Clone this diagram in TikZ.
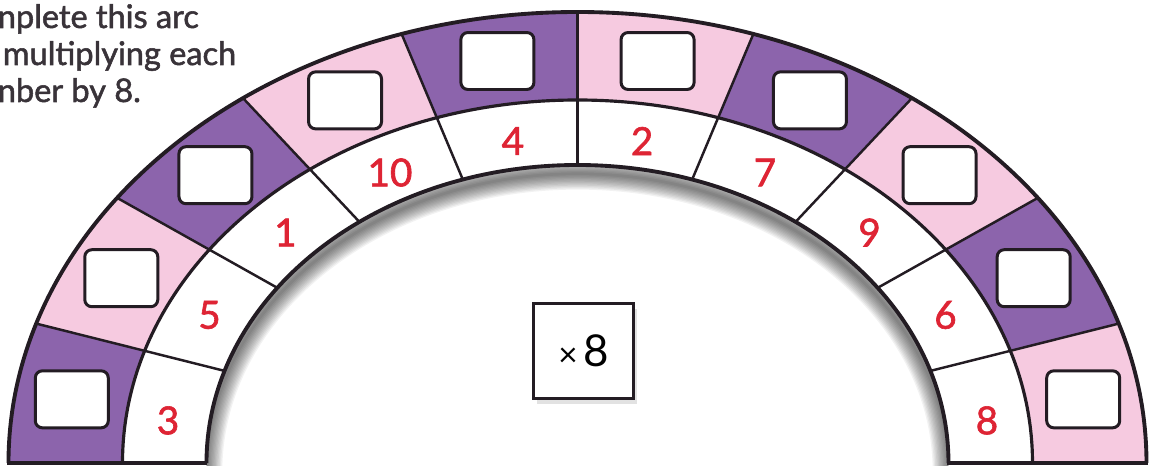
\documentclass[tikz,border=0pt]{standalone}
\usepackage{fontspec}
\setmainfont{Lato}
\newfontfamily\heavyfont[FakeBold=1.6]{Lato}
\usepackage{tikz}
\usetikzlibrary{positioning, shadows}
\definecolor{arcpurple}{RGB}{140,100,172}
\definecolor{arcpink}{RGB}{246,202,224}
\definecolor{numred}{RGB}{222,36,52}
\definecolor{inkdark}{RGB}{35,28,35}

\begin{document}
\begin{tikzpicture}[
    x=0.02cm, y=0.02cm,
    answer/.style={draw=inkdark, line width=1.7pt, fill=white, rounded corners=4pt,
                   minimum width=1.46cm, minimum height=1.14cm, inner sep=0pt},
    num/.style={text=numred, font=\heavyfont\fontsize{22}{22}\selectfont, inner sep=0pt},
    task/.style={anchor=base west, text=inkdark!90, font=\heavyfont\fontsize{18.5}{20}\selectfont, inner sep=0pt},
    rim/.style={draw=inkdark, line width=2.2pt},
    spoke/.style={draw=inkdark, line width=1.4pt},
    timesbox/.style={draw=inkdark, line width=1.7pt, fill=white,
                     minimum width=2cm, minimum height=1.9cm,
                     drop shadow={shadow xshift=2pt, shadow yshift=-3pt, fill=black!22}}
]
    % page
    \fill[white] (-577.5,-3) rectangle (576.5,463);
    \useasboundingbox (-577.5,-3) rectangle (576.5,463);

    % Instruction (cut at the left edge)
    \node[task] (task1) at (-580,435) {nplete this arc};
    \node[task] (task2) at (-575,398) {multiplying each};
    \node[task] (task3) at (-580,361) {nber by 8.};

    % Coloured outer ring
    \foreach \i/\col in {0/arcpurple,1/arcpink,2/arcpurple,3/arcpink,4/arcpurple,
                         5/arcpink,6/arcpurple,7/arcpink,8/arcpurple,9/arcpink} {
        \pgfmathsetmacro\a{180-18*\i}
        \pgfmathsetmacro\b{162-18*\i}
        \fill[\col] (\a:569 and 451) arc[start angle=\a, end angle=\b, x radius=569, y radius=451]
            -- (\b:455 and 363) arc[start angle=\b, end angle=\a, x radius=455, y radius=363] -- cycle;
    }

    % Shadow inside the arc
    \begin{scope}
        \clip (0,0) ellipse [x radius=371, y radius=298];
        \foreach \k in {1,...,12}
            \draw[black, opacity=0.05, line width=\k*1.5pt, yshift=-5]
                (180:371 and 298) arc[start angle=180, end angle=0, x radius=371, y radius=298];
    \end{scope}

    % Outlines
    \draw[rim] (180:569 and 451) arc[start angle=180, end angle=0, x radius=569, y radius=451];
    \draw[rim, line width=1.8pt] (180:455 and 363) arc[start angle=180, end angle=0, x radius=455, y radius=363];
    \draw[rim] (180:371 and 298) arc[start angle=180, end angle=0, x radius=371, y radius=298];
    \draw[rim] (-570,0) -- (-370,0);
    \draw[rim] (370,0) -- (570,0);
    \foreach \t in {162,144,...,18}
        \draw[spoke] (\t:371 and 298) -- (\t:569 and 451);

    % Answer boxes and numbers
    \foreach \n/\t/\u in {3/171/172.5, 5/153/153, 1/135/135, 10/117/117, 4/99/99,
                          2/81/81, 7/63/63, 9/45/45, 6/27/27, 8/9/7.5} {
        \node[answer] (ans\n) at (\t:512 and 407) {};
        \node[num] (num\n) at (\u:413 and 326) {\n};
    }

    % Multiplier
    \node[timesbox] (times) at (6,112)
        {{\fontsize{19}{19}\selectfont ×}\hspace{3pt}{\fontsize{25}{25}\selectfont 8}};
\end{tikzpicture}
\end{document}
